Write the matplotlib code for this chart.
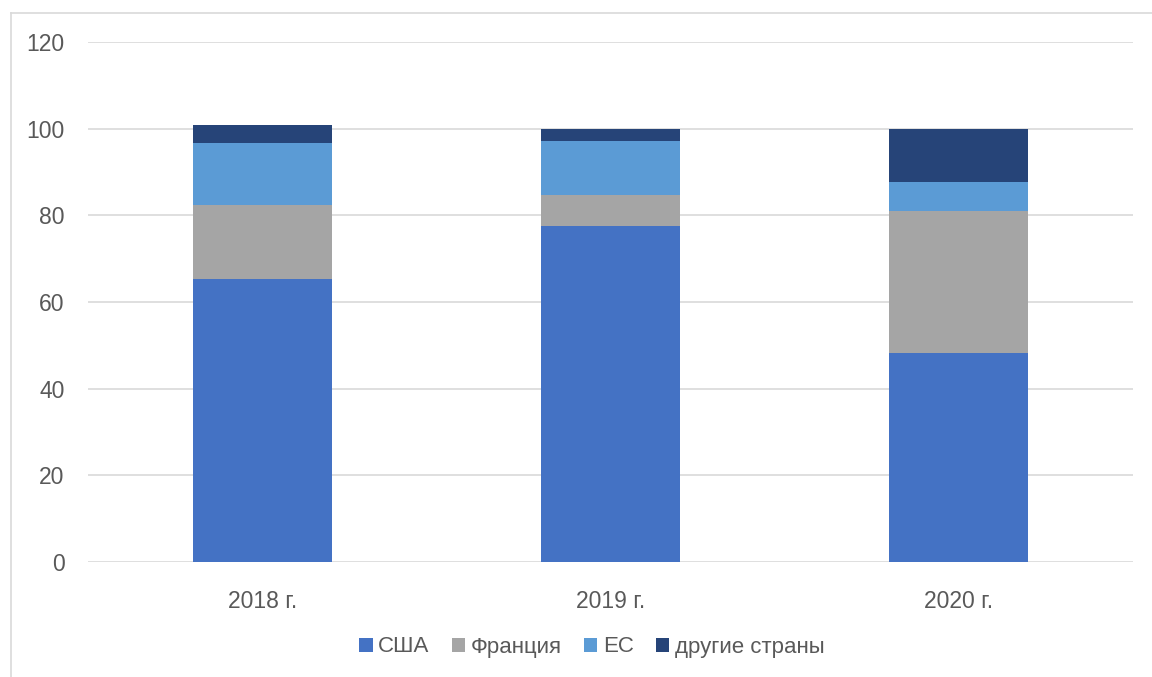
import matplotlib.pyplot as plt
import numpy as np

years = ['2018 г.', '2019 г.', '2020 г.']
usa = [65.2, 77.5, 48.2]
france = [17.2, 7.2, 32.8]
eu = [14.4, 12.5, 6.7]
other = [4.1, 2.8, 12.3]

series = ['США', 'Франция', 'ЕС', 'другие страны']
colors = ['#4472C4', '#A5A5A5', '#5B9BD5', '#264478']


def main():
    plt.rcParams['font.family'] = ['Liberation Sans', 'DejaVu Sans']
    txt = '#595959'

    fig = plt.figure(figsize=(11.52, 6.77), dpi=100)
    ax = fig.add_axes([0.0764, 0.1699, 0.9071, 0.7681])

    x = np.arange(len(years))
    bottom = np.zeros(len(years))
    for name, vals, c in zip(series, [usa, france, eu, other], colors):
        ax.bar(x, vals, 0.4, bottom=bottom, color=c, label=name, zorder=3)
        bottom += np.array(vals)

    ax.set_xlim(-0.5, 2.5)
    ax.set_ylim(0, 120)
    ax.set_yticks(range(0, 121, 20))
    ax.set_xticks(x)
    ax.set_xticklabels(years)
    ax.grid(axis='y', color='#d9d9d9', linewidth=1.2, zorder=0)
    for s in ax.spines.values():
        s.set_visible(False)
    ax.tick_params(axis='both', length=0, labelsize=16.5, colors=txt)
    ax.tick_params(axis='y', pad=17)
    ax.tick_params(axis='x', pad=20)

    fig.legend(loc='center', bbox_to_anchor=(592 / 1152, 1 - 647 / 677), ncol=4,
               frameon=False, fontsize=16, labelcolor=txt,
               handlelength=0.6, handleheight=0.6, handletextpad=0.25, columnspacing=1.0)

    # chart border (top and left only visible)
    fig.add_artist(plt.Line2D([10.5 / 1152, 1], [1 - 12.5 / 677] * 2, color='#d9d9d9', lw=1.2))
    fig.add_artist(plt.Line2D([10.5 / 1152] * 2, [0, 1 - 12.5 / 677], color='#d9d9d9', lw=1.2))

    fig.savefig('out.png', dpi=100)


if __name__ == "__main__":
    main()
